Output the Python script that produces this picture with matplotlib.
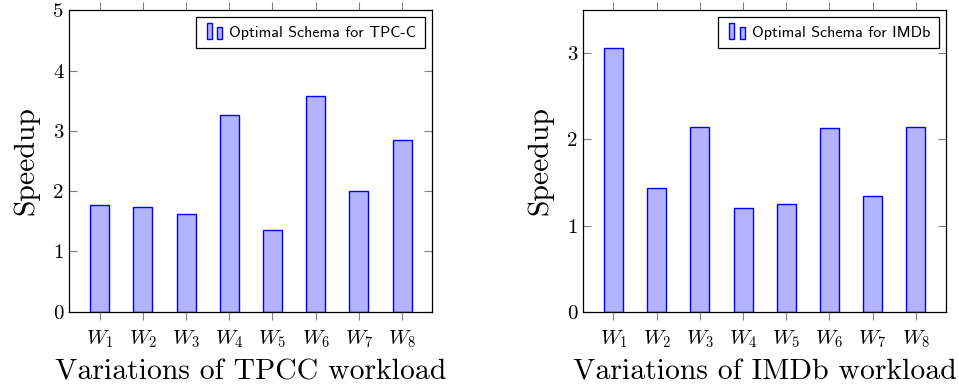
import matplotlib
matplotlib.use("Agg")
import matplotlib.pyplot as plt
from matplotlib.patches import Rectangle
from matplotlib.legend_handler import HandlerBase

# Workload variations and measured speedups
workloads = ["$W_1$", "$W_2$", "$W_3$", "$W_4$", "$W_5$", "$W_6$", "$W_7$", "$W_8$"]
tpcc_speedup = [1.77, 1.74, 1.62, 3.26, 1.35, 3.58, 2.00, 2.85]
imdb_speedup = [3.06, 1.44, 2.14, 1.21, 1.25, 2.13, 1.34, 2.14]
tpcc_yticks = [0, 1, 2, 3, 4, 5]
imdb_yticks = [0, 1, 2, 3]

FILL = "#b3b3ff"
EDGE = "#0000ff"
TICK_GRAY = "#808080"

plt.rcParams["font.family"] = ["cmr10", "DejaVu Serif"]
plt.rcParams["mathtext.fontset"] = "cm"
plt.rcParams["axes.unicode_minus"] = False
plt.rcParams["axes.formatter.use_mathtext"] = True


class TwoBarHandler(HandlerBase):
    """Legend glyph with two small bars, as in ybar legends."""

    def create_artists(self, legend, orig_handle, xdescent, ydescent,
                       width, height, fontsize, trans):
        w = width * 0.24
        r1 = Rectangle((-xdescent + width * 0.10, -ydescent - height * 0.25),
                       w, height * 1.45, facecolor=FILL, edgecolor=EDGE,
                       linewidth=1.0, transform=trans)
        r2 = Rectangle((-xdescent + width * 0.62, -ydescent - height * 0.25),
                       w, height * 1.1, facecolor=FILL, edgecolor=EDGE,
                       linewidth=1.0, transform=trans)
        return [r1, r2]


fig = plt.figure(figsize=(9.59, 3.89), dpi=100)
ax1 = fig.add_axes([0.0723, 0.1987, 0.3785, 0.7748])
ax2 = fig.add_axes([0.6082, 0.1987, 0.3782, 0.7748])


def draw(ax, values, yticks, ymax, xlabel, legend_label):
    x = list(range(1, len(workloads) + 1))
    bars = ax.bar(x, values, width=0.44, color=FILL, edgecolor=EDGE,
                  linewidth=1.0, zorder=2)
    ax.set_xlim(0.3, 8.7)
    ax.set_ylim(0, ymax)
    ax.set_xticks(x)
    ax.set_xticklabels(workloads, fontsize=15)
    ax.set_yticks(yticks)
    ax.set_yticklabels([str(t) for t in yticks], fontsize=15)
    ax.tick_params(axis="x", direction="out", length=6, width=0.8,
                   color=TICK_GRAY, top=True, bottom=True, pad=6)
    ax.tick_params(axis="y", direction="in", length=6, width=0.8,
                   color=TICK_GRAY, left=True, right=True, pad=4)
    for s in ax.spines.values():
        s.set_linewidth(0.9)
        s.set_color("black")
    ax.set_xlabel(xlabel, fontsize=21.4, labelpad=7)
    ax.set_ylabel("Speedup", fontsize=21.4, labelpad=10)
    leg = ax.legend([bars], [legend_label], loc="upper right",
                    bbox_to_anchor=(1 - 7.3 / 363, 1 - 6.4 / 301.4),
                    borderaxespad=0, handler_map={type(bars): TwoBarHandler()},
                    prop={"family": ["cmss10", "DejaVu Sans"], "size": 11.5},
                    frameon=True, fancybox=False, edgecolor="black",
                    framealpha=1, handlelength=1.3, handletextpad=0.25,
                    borderpad=0.55)
    leg.get_frame().set_linewidth(0.9)


draw(ax1, tpcc_speedup, tpcc_yticks, 5, "Variations of TPCC workload",
     "Optimal Schema for TPC-C")
draw(ax2, imdb_speedup, imdb_yticks, 3.5, "Variations of IMDb workload",
     "Optimal Schema for IMDb")

fig.savefig("out.png", dpi=100)
